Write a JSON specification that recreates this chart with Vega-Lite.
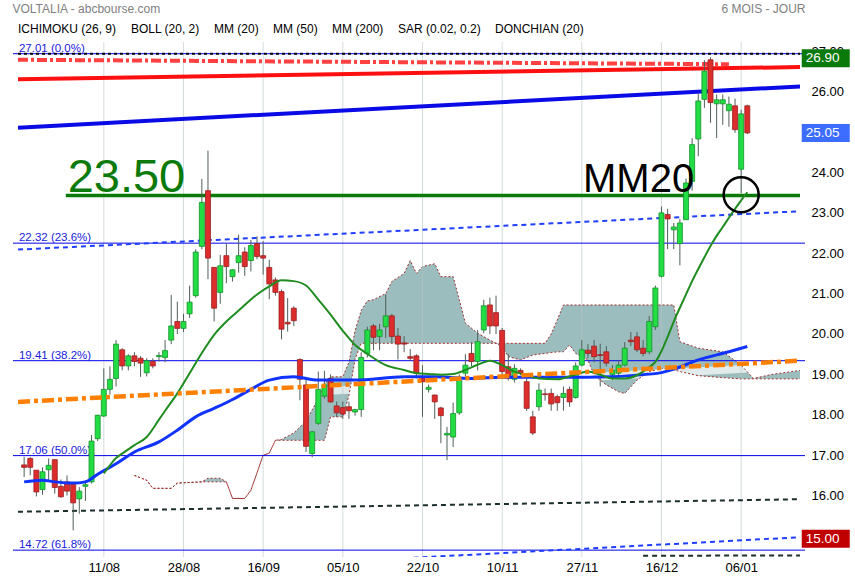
{
"$schema":"https://vega.github.io/schema/vega-lite/v6.json",
"width":792,"height":515,
"autosize":{"type":"none"},
"padding":{"left":13,"top":42,"right":50,"bottom":23},
"background":"white",
"config":{"view":{"fill":"#d9ffff","stroke":null},"font":"Liberation Sans","axis":{"labelFont":"Liberation Sans","titleFont":"Liberation Sans"}},
"title":{"text":"VOLTALIA - abcbourse.com","anchor":"start","fontSize":12,"fontWeight":"normal","color":"#808080","font":"Liberation Sans","offset":-14},
"datasets":{
"candles":[
{"i":0,"o":16.83,"h":17.03,"l":16.53,"c":16.77},{"i":1,"o":16.99,"h":17.02,"l":16.57,"c":16.77},{"i":2,"o":16.70,"h":16.70,"l":16.05,"c":16.16},{"i":3,"o":16.22,"h":16.77,"l":16.09,"c":16.66},{"i":4,"o":16.71,"h":16.99,"l":16.43,"c":16.82},{"i":5,"o":16.96,"h":16.96,"l":16.12,"c":16.27},{"i":6,"o":16.30,"h":16.47,"l":16.02,"c":16.04},{"i":7,"o":16.41,"h":16.57,"l":16.07,"c":16.18},{"i":8,"o":16.35,"h":16.37,"l":15.21,"c":15.89},{"i":9,"o":15.99,"h":16.28,"l":15.62,"c":16.18},
{"i":10,"o":16.30,"h":16.45,"l":15.94,"c":16.34},{"i":11,"o":16.41,"h":17.57,"l":16.37,"c":17.42},{"i":12,"o":17.48,"h":18.07,"l":17.42,"c":18.06},{"i":13,"o":18.04,"h":19.22,"l":18.02,"c":18.70},{"i":14,"o":18.70,"h":19.27,"l":18.57,"c":18.95},{"i":15,"o":18.97,"h":19.92,"l":18.77,"c":19.82},{"i":16,"o":19.68,"h":19.72,"l":19.17,"c":19.28},{"i":17,"o":19.28,"h":19.57,"l":19.17,"c":19.53},{"i":18,"o":19.53,"h":19.62,"l":19.27,"c":19.39},{"i":19,"o":19.47,"h":19.52,"l":19.01,"c":19.35},
{"i":20,"o":19.11,"h":19.47,"l":19.02,"c":19.41},{"i":21,"o":19.39,"h":19.47,"l":19.22,"c":19.28},{"i":22,"o":19.51,"h":19.62,"l":19.39,"c":19.54},{"i":23,"o":19.49,"h":19.92,"l":19.37,"c":19.66},{"i":24,"o":19.92,"h":21.04,"l":19.82,"c":20.27},{"i":25,"o":20.38,"h":20.87,"l":20.07,"c":20.21},{"i":26,"o":20.21,"h":20.57,"l":20.12,"c":20.38},{"i":27,"o":20.57,"h":21.27,"l":20.47,"c":20.86},{"i":28,"o":21.02,"h":22.17,"l":20.97,"c":22.10},{"i":29,"o":22.24,"h":23.91,"l":22.17,"c":23.33},
{"i":30,"o":23.62,"h":24.61,"l":21.43,"c":21.95},{"i":31,"o":21.72,"h":21.72,"l":20.38,"c":20.71},{"i":32,"o":21.10,"h":22.03,"l":20.82,"c":21.76},{"i":33,"o":22.01,"h":22.32,"l":21.33,"c":21.74},{"i":34,"o":21.49,"h":21.67,"l":21.37,"c":21.66},{"i":35,"o":21.84,"h":22.53,"l":21.59,"c":22.01},{"i":36,"o":22.10,"h":22.22,"l":21.51,"c":21.74},{"i":37,"o":21.89,"h":22.40,"l":21.62,"c":22.26},{"i":38,"o":22.31,"h":22.49,"l":21.92,"c":21.99},{"i":39,"o":22.01,"h":22.37,"l":21.54,"c":21.95},
{"i":40,"o":21.72,"h":21.91,"l":20.93,"c":21.31},{"i":41,"o":21.41,"h":21.47,"l":21.02,"c":21.10},{"i":42,"o":21.12,"h":21.17,"l":19.94,"c":20.19},{"i":43,"o":20.36,"h":20.96,"l":20.13,"c":20.32},{"i":44,"o":20.71,"h":20.76,"l":20.27,"c":20.40},{"i":45,"o":19.44,"h":19.47,"l":18.43,"c":18.95},{"i":46,"o":18.81,"h":19.01,"l":17.15,"c":17.29},{"i":47,"o":17.11,"h":17.67,"l":17.02,"c":17.65},{"i":48,"o":17.86,"h":19.14,"l":17.82,"c":18.70},{"i":49,"o":18.53,"h":19.16,"l":18.47,"c":18.81},
{"i":50,"o":18.97,"h":19.07,"l":18.37,"c":18.39},{"i":51,"o":18.29,"h":18.40,"l":18.02,"c":18.12},{"i":52,"o":18.25,"h":18.40,"l":17.97,"c":18.09},{"i":53,"o":18.27,"h":18.40,"l":17.97,"c":18.17},{"i":54,"o":18.14,"h":18.22,"l":18.05,"c":18.20},{"i":55,"o":18.20,"h":19.62,"l":18.02,"c":19.49},{"i":56,"o":19.59,"h":20.25,"l":19.49,"c":20.17},{"i":57,"o":20.27,"h":20.32,"l":19.67,"c":19.99},{"i":58,"o":20.01,"h":20.32,"l":19.67,"c":20.17},{"i":59,"o":20.25,"h":21.05,"l":19.97,"c":20.52},
{"i":60,"o":20.52,"h":20.57,"l":19.85,"c":20.01},{"i":61,"o":20.02,"h":20.22,"l":19.44,"c":19.82},{"i":62,"o":19.85,"h":20.02,"l":19.62,"c":19.82},{"i":63,"o":19.51,"h":19.70,"l":19.41,"c":19.47},{"i":64,"o":19.53,"h":19.57,"l":18.97,"c":19.11},{"i":65,"o":19.01,"h":19.30,"l":18.02,"c":18.89},{"i":66,"o":18.70,"h":18.82,"l":18.62,"c":18.75},{"i":67,"o":18.56,"h":18.57,"l":17.97,"c":18.39},{"i":68,"o":18.24,"h":18.27,"l":17.37,"c":18.05},{"i":69,"o":17.57,"h":17.77,"l":16.95,"c":17.61},
{"i":70,"o":17.52,"h":18.37,"l":17.27,"c":18.10},{"i":71,"o":18.12,"h":19.07,"l":18.07,"c":18.93},{"i":72,"o":19.10,"h":19.57,"l":19.02,"c":19.30},{"i":73,"o":19.59,"h":19.87,"l":19.27,"c":19.39},{"i":74,"o":19.39,"h":20.17,"l":19.17,"c":19.88},{"i":75,"o":20.17,"h":20.92,"l":20.09,"c":20.77},{"i":76,"o":20.79,"h":20.97,"l":20.07,"c":20.27},{"i":77,"o":20.60,"h":21.02,"l":20.07,"c":20.27},{"i":78,"o":20.16,"h":20.22,"l":18.97,"c":19.14},{"i":79,"o":19.26,"h":19.57,"l":18.92,"c":18.97},
{"i":80,"o":18.95,"h":19.32,"l":18.87,"c":19.22},{"i":81,"o":19.17,"h":19.22,"l":19.05,"c":19.10},{"i":82,"o":18.89,"h":19.02,"l":18.17,"c":18.23},{"i":83,"o":18.02,"h":18.17,"l":17.57,"c":17.62},{"i":84,"o":18.27,"h":18.85,"l":18.17,"c":18.68},{"i":85,"o":18.59,"h":18.72,"l":18.42,"c":18.57},{"i":86,"o":18.60,"h":18.72,"l":18.17,"c":18.34},{"i":87,"o":18.52,"h":18.57,"l":18.17,"c":18.37},{"i":88,"o":18.50,"h":18.77,"l":18.17,"c":18.60},{"i":89,"o":18.70,"h":18.77,"l":18.27,"c":18.39},
{"i":90,"o":18.50,"h":19.37,"l":18.47,"c":19.28},{"i":91,"o":19.30,"h":19.92,"l":19.27,"c":19.68},{"i":92,"o":19.67,"h":19.82,"l":19.47,"c":19.59},{"i":93,"o":19.77,"h":19.92,"l":19.37,"c":19.51},{"i":94,"o":19.56,"h":19.83,"l":18.77,"c":19.54},{"i":95,"o":19.63,"h":19.77,"l":19.27,"c":19.35},{"i":96,"o":19.07,"h":19.30,"l":18.93,"c":19.17},{"i":97,"o":19.10,"h":19.42,"l":19.02,"c":19.30},{"i":98,"o":19.30,"h":19.87,"l":19.27,"c":19.72},{"i":99,"o":19.92,"h":20.12,"l":19.77,"c":19.88},
{"i":100,"o":20.00,"h":20.12,"l":19.62,"c":19.68},{"i":101,"o":19.72,"h":19.92,"l":19.52,"c":19.59},{"i":102,"o":19.63,"h":20.52,"l":19.57,"c":20.38},{"i":103,"o":20.25,"h":21.27,"l":20.17,"c":21.21},{"i":104,"o":21.50,"h":23.23,"l":21.47,"c":23.07},{"i":105,"o":23.03,"h":23.17,"l":22.17,"c":22.92},{"i":106,"o":22.65,"h":22.82,"l":22.17,"c":22.72},{"i":107,"o":22.31,"h":22.92,"l":21.77,"c":22.82},{"i":108,"o":22.90,"h":23.92,"l":22.90,"c":23.81},{"i":109,"o":23.85,"h":24.92,"l":23.62,"c":24.76},
{"i":110,"o":24.90,"h":26.02,"l":24.47,"c":25.84},{"i":111,"o":25.88,"h":26.85,"l":25.67,"c":26.58},{"i":112,"o":26.86,"h":26.92,"l":25.30,"c":25.80},{"i":113,"o":25.77,"h":26.00,"l":24.92,"c":25.87},{"i":114,"o":25.77,"h":26.00,"l":25.25,"c":25.87},{"i":115,"o":25.60,"h":25.95,"l":25.20,"c":25.76},{"i":116,"o":25.72,"h":25.90,"l":25.05,"c":25.13},{"i":117,"o":24.15,"h":25.62,"l":23.56,"c":25.52},{"i":118,"o":25.72,"h":25.75,"l":25.02,"c":25.05}
],
"mm20":[{"i":13,"v":16.62},{"i":14,"v":16.82},{"i":15,"v":17.0},{"i":16,"v":17.11},{"i":18,"v":17.32},{"i":20,"v":17.52},{"i":22,"v":17.95},{"i":23,"v":18.17},{"i":25,"v":18.6},{"i":27,"v":19.1},{"i":29,"v":19.6},{"i":31,"v":20.05},{"i":33,"v":20.38},{"i":35,"v":20.65},{"i":38,"v":21.05},{"i":40,"v":21.25},{"i":42,"v":21.4},{"i":44,"v":21.38},{"i":46,"v":21.27},{"i":48,"v":20.92},{"i":50,"v":20.55},{"i":52,"v":20.15},{"i":54,"v":19.8},{"i":56,"v":19.58},{"i":59,"v":19.3},{"i":62,"v":19.18},{"i":64,"v":19.1},{"i":66,"v":19.08},{"i":68,"v":19.06},{"i":70,"v":19.08},{"i":72,"v":19.18},{"i":74,"v":19.31},{"i":76,"v":19.41},{"i":78,"v":19.3},{"i":80,"v":19.14},{"i":82,"v":19.05},{"i":84,"v":18.97},{"i":87,"v":18.95},{"i":90,"v":19.07},{"i":92,"v":19.14},{"i":94,"v":19.06},{"i":96,"v":18.97},{"i":98,"v":18.97},{"i":100,"v":19.05},{"i":101,"v":19.14},{"i":102,"v":19.25},{"i":103,"v":19.38},{"i":104,"v":19.65},{"i":105,"v":20.0},{"i":106,"v":20.38},{"i":107,"v":20.72},{"i":108,"v":21.05},{"i":109,"v":21.38},{"i":110,"v":21.68},{"i":111,"v":21.97},{"i":112,"v":22.25},{"i":113,"v":22.5},{"i":114,"v":22.72},{"i":115,"v":22.95},{"i":116,"v":23.17},{"i":117,"v":23.38},{"i":118,"v":23.58}],
"mm200":[{"i":0,"v":16.41},{"i":3,"v":16.45},{"i":5,"v":16.41},{"i":8,"v":16.38},{"i":10,"v":16.41},{"i":12,"v":16.6},{"i":15,"v":16.86},{"i":18,"v":17.15},{"i":22,"v":17.4},{"i":25,"v":17.69},{"i":28,"v":18.02},{"i":31,"v":18.23},{"i":34,"v":18.45},{"i":37,"v":18.7},{"i":40,"v":18.93},{"i":44,"v":19.01},{"i":48,"v":18.93},{"i":54,"v":18.93},{"i":62,"v":19.01},{"i":67,"v":19.01},{"i":73,"v":18.97},{"i":78,"v":19.0},{"i":92,"v":19.0},{"i":103,"v":19.09},{"i":106,"v":19.2},{"i":110,"v":19.43},{"i":115,"v":19.63},{"i":118,"v":19.76}],
"cloud":[{"i":18,"a":16.57,"b":16.57},{"i":20,"a":16.45,"b":16.45},{"i":21,"a":16.25,"b":16.25},{"i":24,"a":16.25,"b":16.25},{"i":25,"a":16.38,"b":16.38},{"i":29,"a":16.41,"b":16.41},{"i":30,"a":16.5,"b":16.41},{"i":32,"a":16.5,"b":16.41},{"i":33,"a":16.41,"b":16.41},{"i":34,"a":16.0,"b":16.0},{"i":36,"a":16.0,"b":16.0},{"i":37,"a":16.2,"b":16.2},{"i":39,"a":17.07,"b":17.07},{"i":40,"a":17.12,"b":17.12},{"i":41,"a":17.44,"b":17.44},{"i":42,"a":17.46,"b":17.44},{"i":44,"a":17.62,"b":17.44},{"i":46,"a":17.92,"b":17.44},{"i":48,"a":18.47,"b":17.44},{"i":49,"a":18.84,"b":17.44},{"i":50,"a":19.01,"b":18.02},{"i":52,"a":19.01,"b":18.02},{"i":53,"a":19.37,"b":18.55},{"i":54,"a":20.15,"b":19.45},{"i":55,"a":20.65,"b":19.84},{"i":56,"a":20.89,"b":19.84},{"i":57,"a":20.92,"b":19.84},{"i":59,"a":21.07,"b":19.84},{"i":60,"a":21.37,"b":19.84},{"i":62,"a":21.57,"b":19.84},{"i":63,"a":21.89,"b":19.84},{"i":64,"a":21.57,"b":19.84},{"i":65,"a":21.74,"b":19.84},{"i":67,"a":21.81,"b":19.84},{"i":68,"a":21.49,"b":19.84},{"i":70,"a":21.49,"b":19.84},{"i":71,"a":20.92,"b":19.84},{"i":72,"a":20.34,"b":19.84},{"i":74,"a":20.09,"b":19.84},{"i":76,"a":19.92,"b":19.84},{"i":78,"a":19.76,"b":19.84},{"i":79,"a":19.51,"b":19.84},{"i":81,"a":19.43,"b":19.84},{"i":83,"a":19.55,"b":19.84},{"i":85,"a":19.59,"b":19.84},{"i":86,"a":19.61,"b":20.07},{"i":87,"a":19.63,"b":20.42},{"i":88,"a":19.63,"b":20.79},{"i":89,"a":19.8,"b":20.79},{"i":90,"a":19.59,"b":20.79},{"i":92,"a":19.43,"b":20.79},{"i":93,"a":19.05,"b":20.79},{"i":95,"a":18.81,"b":20.79},{"i":97,"a":18.64,"b":20.79},{"i":98,"a":18.6,"b":20.79},{"i":100,"a":18.93,"b":20.79},{"i":102,"a":19.14,"b":20.79},{"i":104,"a":19.22,"b":20.79},{"i":106,"a":19.19,"b":20.79},{"i":107,"a":19.14,"b":19.88},{"i":110,"a":19.04,"b":19.72},{"i":114,"a":18.99,"b":19.63},{"i":117,"a":18.96,"b":19.3},{"i":119,"a":18.96,"b":18.97},{"i":122,"a":18.96,"b":19.07},{"i":126.6,"a":18.96,"b":19.17}],
"trends":[{"id":"blueT","i":-1,"v":25.18},{"id":"blueT","i":126.6,"v":26.20},{"id":"redT","i":-1,"v":26.38},{"id":"redT","i":126.6,"v":26.68},{"id":"donchian","i":-1,"v":26.86},{"id":"donchian","i":115,"v":26.75},{"id":"top","i":-1,"v":27.01},{"id":"top","i":126.6,"v":27.01},{"id":"blueD1","i":-1,"v":22.16},{"id":"blueD1","i":126.6,"v":23.11},{"id":"blueD2","i":-1,"v":14.01},{"id":"blueD2","i":126.6,"v":15.04},{"id":"blackD1","i":-1,"v":15.67},{"id":"blackD1","i":126.6,"v":15.98},{"id":"blackD2","i":101,"v":14.58},{"id":"blackD2","i":126.6,"v":14.59},{"id":"orange","i":-1,"v":18.39},{"id":"orange","i":126.6,"v":19.41},{"id":"band","i":-1,"v":18.26},{"id":"band","i":126.6,"v":19.28},{"id":"support","i":6.8,"v":23.5},{"id":"support","i":126.6,"v":23.5}],
"fib":[{"v":27.01,"label":"27.01 (0.0%)"},{"v":22.32,"label":"22.32 (23.6%)"},{"v":19.41,"label":"19.41 (38.2%)"},{"v":17.06,"label":"17.06 (50.0%)"},{"v":14.72,"label":"14.72 (61.8%)"}],
"grid":[{"i":13},{"i":26},{"i":39},{"i":52},{"i":65},{"i":78},{"i":91},{"i":104},{"i":117}],
"badges":[{"name":"high","v":26.90,"label":"26.90"},{"name":"last","v":25.05,"label":"25.05"},{"name":"sar","v":15.00,"label":"15.00"}],
"legend":[{"ind":"ICHIMOKU (26, 9)"},{"ind":"BOLL (20, 2)"},{"ind":"MM (20)"},{"ind":"MM (50)"},{"ind":"MM (200)"},{"ind":"SAR (0.02, 0.2)"},{"ind":"DONCHIAN (20)"}]
},
"layer":[
{"data":{"name":"trends"},"transform":[{"filter":"datum.id == 'blueT'"}],"mark":{"type":"area","color":"white","clip":true},
 "encoding":{
  "x":{"field":"i","type":"quantitative","scale":{"domain":[-1,126.6],"nice":false,"zero":false},
   "axis":{"values":[13,26,39,52,65,78,91,104,117],"labelExpr":"['11/08','28/08','16/09','05/10','22/10','10/11','27/11','16/12','06/01'][round((datum.value - 13) / 13)]","ticks":false,"domain":false,"grid":false,"title":null,"labelFontSize":13,"labelColor":"#000000","labelPadding":4,"labelFlush":false}},
  "y":{"field":"v","type":"quantitative","scale":{"domain":[14.55,27.3],"nice":false,"zero":false},
   "axis":{"orient":"right","values":[16,17,18,19,20,21,22,23,24,26,27],"format":".2f","ticks":false,"domain":false,"grid":false,"labelFontSize":13,"labelColor":"#000000","labelPadding":6,"labelOffset":-3,"labelFlush":false,"title":"6 MOIS - JOUR","titleAngle":0,"titleAlign":"right","titleBaseline":"middle","titleX":0,"titleY":-34,"titleColor":"#808080","titleFontSize":12,"titleFontWeight":"normal"}},
  "y2":{"datum":27.3}}},
{"data":{"name":"cloud"},"mark":{"type":"area","color":"#9cbdbd","opacity":1,"clip":true},
 "encoding":{"x":{"field":"i","type":"quantitative","scale":{"domain":[-1,126.6],"nice":false,"zero":false}},"y":{"field":"a","type":"quantitative","scale":{"domain":[14.55,27.3],"nice":false,"zero":false}},"y2":{"field":"b"}}},
{"data":{"name":"trends"},"transform":[{"filter":"datum.id == 'band'"}],"mark":{"type":"line","color":"white","strokeWidth":8,"opacity":0.7,"clip":true},
 "encoding":{"x":{"field":"i","type":"quantitative","scale":{"domain":[-1,126.6],"nice":false,"zero":false}},"y":{"field":"v","type":"quantitative","scale":{"domain":[14.55,27.3],"nice":false,"zero":false}}}},
{"data":{"name":"cloud"},"mark":{"type":"line","color":"#a03030","strokeWidth":1,"strokeDash":[2,2],"clip":true},
 "encoding":{"x":{"field":"i","type":"quantitative","scale":{"domain":[-1,126.6],"nice":false,"zero":false}},"y":{"field":"a","type":"quantitative","scale":{"domain":[14.55,27.3],"nice":false,"zero":false}}}},
{"data":{"name":"cloud"},"mark":{"type":"line","color":"#a03030","strokeWidth":1,"strokeDash":[2,2],"clip":true},
 "encoding":{"x":{"field":"i","type":"quantitative","scale":{"domain":[-1,126.6],"nice":false,"zero":false}},"y":{"field":"b","type":"quantitative","scale":{"domain":[14.55,27.3],"nice":false,"zero":false}}}},
{"data":{"name":"grid"},"mark":{"type":"rule","color":"#b8c4c4","strokeWidth":1,"opacity":0.6},
 "encoding":{"x":{"field":"i","type":"quantitative","scale":{"domain":[-1,126.6],"nice":false,"zero":false}}}},
{"data":{"name":"fib"},"mark":{"type":"rule","color":"#0000ee","strokeWidth":1},
 "encoding":{"y":{"field":"v","type":"quantitative","scale":{"domain":[14.55,27.3],"nice":false,"zero":false}}}},
{"data":{"name":"fib"},"mark":{"type":"text","color":"#1a1add","fontSize":11.5,"align":"left","baseline":"alphabetic","dy":-2},
 "encoding":{"x":{"datum":-0.85,"type":"quantitative","scale":{"domain":[-1,126.6],"nice":false,"zero":false}},"y":{"field":"v","type":"quantitative","scale":{"domain":[14.55,27.3],"nice":false,"zero":false}},"text":{"field":"label"}}},
{"data":{"name":"trends"},"transform":[{"filter":"datum.id == 'top'"}],"mark":{"type":"line","color":"#000000","strokeWidth":2,"strokeDash":[3,3],"clip":true},
 "encoding":{"x":{"field":"i","type":"quantitative","scale":{"domain":[-1,126.6],"nice":false,"zero":false}},"y":{"field":"v","type":"quantitative","scale":{"domain":[14.55,27.3],"nice":false,"zero":false}}}},
{"data":{"name":"trends"},"transform":[{"filter":"datum.id == 'blueD1' || datum.id == 'blueD2'"}],"mark":{"type":"line","color":"#1f3fff","strokeWidth":2,"strokeDash":[5,4],"clip":true},
 "encoding":{"x":{"field":"i","type":"quantitative","scale":{"domain":[-1,126.6],"nice":false,"zero":false}},"y":{"field":"v","type":"quantitative","scale":{"domain":[14.55,27.3],"nice":false,"zero":false}},"detail":{"field":"id"}}},
{"data":{"name":"trends"},"transform":[{"filter":"datum.id == 'blackD1' || datum.id == 'blackD2'"}],"mark":{"type":"line","color":"#1c2e2e","strokeWidth":2,"strokeDash":[5,4],"clip":true},
 "encoding":{"x":{"field":"i","type":"quantitative","scale":{"domain":[-1,126.6],"nice":false,"zero":false}},"y":{"field":"v","type":"quantitative","scale":{"domain":[14.55,27.3],"nice":false,"zero":false}},"detail":{"field":"id"}}},
{"data":{"name":"trends"},"transform":[{"filter":"datum.id == 'redT'"}],"mark":{"type":"line","color":"#ff1010","strokeWidth":4,"clip":true},
 "encoding":{"x":{"field":"i","type":"quantitative","scale":{"domain":[-1,126.6],"nice":false,"zero":false}},"y":{"field":"v","type":"quantitative","scale":{"domain":[14.55,27.3],"nice":false,"zero":false}}}},
{"data":{"name":"trends"},"transform":[{"filter":"datum.id == 'donchian'"}],"mark":{"type":"line","color":"#ff2020","strokeWidth":4,"strokeDash":[10,3,3,3],"opacity":0.85,"clip":true},
 "encoding":{"x":{"field":"i","type":"quantitative","scale":{"domain":[-1,126.6],"nice":false,"zero":false}},"y":{"field":"v","type":"quantitative","scale":{"domain":[14.55,27.3],"nice":false,"zero":false}}}},
{"data":{"name":"trends"},"transform":[{"filter":"datum.id == 'blueT'"}],"mark":{"type":"line","color":"#0a0ae6","strokeWidth":4,"clip":true},
 "encoding":{"x":{"field":"i","type":"quantitative","scale":{"domain":[-1,126.6],"nice":false,"zero":false}},"y":{"field":"v","type":"quantitative","scale":{"domain":[14.55,27.3],"nice":false,"zero":false}}}},
{"data":{"name":"trends"},"transform":[{"filter":"datum.id == 'support'"}],"mark":{"type":"line","color":"#0a7a0a","strokeWidth":3.5,"clip":true},
 "encoding":{"x":{"field":"i","type":"quantitative","scale":{"domain":[-1,126.6],"nice":false,"zero":false}},"y":{"field":"v","type":"quantitative","scale":{"domain":[14.55,27.3],"nice":false,"zero":false}}}},
{"data":{"name":"candles"},"mark":{"type":"rule","color":"#4f5f5a","strokeWidth":1,"clip":true},
 "encoding":{"x":{"field":"i","type":"quantitative","scale":{"domain":[-1,126.6],"nice":false,"zero":false}},"y":{"field":"l","type":"quantitative","scale":{"domain":[14.55,27.3],"nice":false,"zero":false}},"y2":{"field":"h"}}},
{"data":{"name":"candles"},"mark":{"type":"bar","size":5,"strokeWidth":0.8,"clip":true},
 "encoding":{"x":{"field":"i","type":"quantitative","scale":{"domain":[-1,126.6],"nice":false,"zero":false}},"y":{"field":"o","type":"quantitative","scale":{"domain":[14.55,27.3],"nice":false,"zero":false}},"y2":{"field":"c"},
  "fill":{"condition":{"test":"datum.c >= datum.o","value":"#22dd44"},"value":"#dd2c2c"},
  "stroke":{"condition":{"test":"datum.c >= datum.o","value":"#13922a"},"value":"#9a2020"}}},
{"data":{"name":"mm200"},"mark":{"type":"line","color":"#1133ff","strokeWidth":3,"interpolate":"monotone","clip":true},
 "encoding":{"x":{"field":"i","type":"quantitative","scale":{"domain":[-1,126.6],"nice":false,"zero":false}},"y":{"field":"v","type":"quantitative","scale":{"domain":[14.55,27.3],"nice":false,"zero":false}}}},
{"data":{"name":"mm20"},"mark":{"type":"line","color":"#1f8c1f","strokeWidth":2,"interpolate":"monotone","clip":true},
 "encoding":{"x":{"field":"i","type":"quantitative","scale":{"domain":[-1,126.6],"nice":false,"zero":false}},"y":{"field":"v","type":"quantitative","scale":{"domain":[14.55,27.3],"nice":false,"zero":false}}}},
{"data":{"name":"trends"},"transform":[{"filter":"datum.id == 'orange'"}],"mark":{"type":"line","color":"#ff8000","strokeWidth":4.5,"strokeDash":[12,4,4,4],"clip":true},
 "encoding":{"x":{"field":"i","type":"quantitative","scale":{"domain":[-1,126.6],"nice":false,"zero":false}},"y":{"field":"v","type":"quantitative","scale":{"domain":[14.55,27.3],"nice":false,"zero":false}}}},
{"data":{"values":[{"i":7.1,"v":23.5,"t":"23.50"}]},"mark":{"type":"text","color":"#0a7a0a","fontSize":47,"align":"left","baseline":"alphabetic","dy":-3},
 "encoding":{"x":{"field":"i","type":"quantitative","scale":{"domain":[-1,126.6],"nice":false,"zero":false}},"y":{"field":"v","type":"quantitative","scale":{"domain":[14.55,27.3],"nice":false,"zero":false}},"text":{"field":"t"}}},
{"data":{"values":[{"i":91.2,"v":23.5,"t":"MM20"}]},"mark":{"type":"text","color":"#000000","fontSize":40,"align":"left","baseline":"alphabetic","dy":-3},
 "encoding":{"x":{"field":"i","type":"quantitative","scale":{"domain":[-1,126.6],"nice":false,"zero":false}},"y":{"field":"v","type":"quantitative","scale":{"domain":[14.55,27.3],"nice":false,"zero":false}},"text":{"field":"t"}}},
{"data":{"values":[{"i":117,"v":23.52}]},"mark":{"type":"point","shape":"circle","size":1225,"filled":false,"stroke":"#000000","strokeWidth":2.5,"opacity":1},
 "encoding":{"x":{"field":"i","type":"quantitative","scale":{"domain":[-1,126.6],"nice":false,"zero":false}},"y":{"field":"v","type":"quantitative","scale":{"domain":[14.55,27.3],"nice":false,"zero":false}}}},
{"data":{"name":"badges"},"mark":{"type":"point","shape":"M-1,-0.375L1,-0.375L1,0.375L-1,0.375Z","size":2304,"filled":true,"opacity":1,"clip":false},
 "encoding":{"x":{"datum":130.8,"type":"quantitative","scale":{"domain":[-1,126.6],"nice":false,"zero":false}},"y":{"field":"v","type":"quantitative","scale":{"domain":[14.55,27.3],"nice":false,"zero":false}},
  "fill":{"field":"name","type":"nominal","scale":{"domain":["high","last","sar"],"range":["#0a7a0a","#3d6dff","#c00000"]},"legend":null}}},
{"data":{"name":"badges"},"mark":{"type":"text","color":"#ffffff","fontSize":13.5,"align":"left","baseline":"middle","clip":false},
 "encoding":{"x":{"datum":127.55,"type":"quantitative","scale":{"domain":[-1,126.6],"nice":false,"zero":false}},"y":{"field":"v","type":"quantitative","scale":{"domain":[14.55,27.3],"nice":false,"zero":false}},"text":{"field":"label"}}},
{"data":{"name":"legend"},"mark":{"type":"point","opacity":0},
 "encoding":{"color":{"field":"ind","type":"nominal",
  "scale":{"domain":["ICHIMOKU (26, 9)","BOLL (20, 2)","MM (20)","MM (50)","MM (200)","SAR (0.02, 0.2)","DONCHIAN (20)"],"range":["#1010ee","#cc44cc","#118811","#ff0000","#1010ee","#cc0000","#ff4d4d"]},
  "legend":{"title":null,"orient":"top","direction":"horizontal","symbolSize":0,"symbolOpacity":0,"symbolStrokeWidth":0,"labelOffset":-7,"columnPadding":9,"labelFontSize":12,"labelFont":"Liberation Sans","offset":7,"padding":0,"labelLimit":400,
   "encode":{"labels":{"update":{"fill":{"scale":"color","field":"value"}}}}}}}}
]
}
